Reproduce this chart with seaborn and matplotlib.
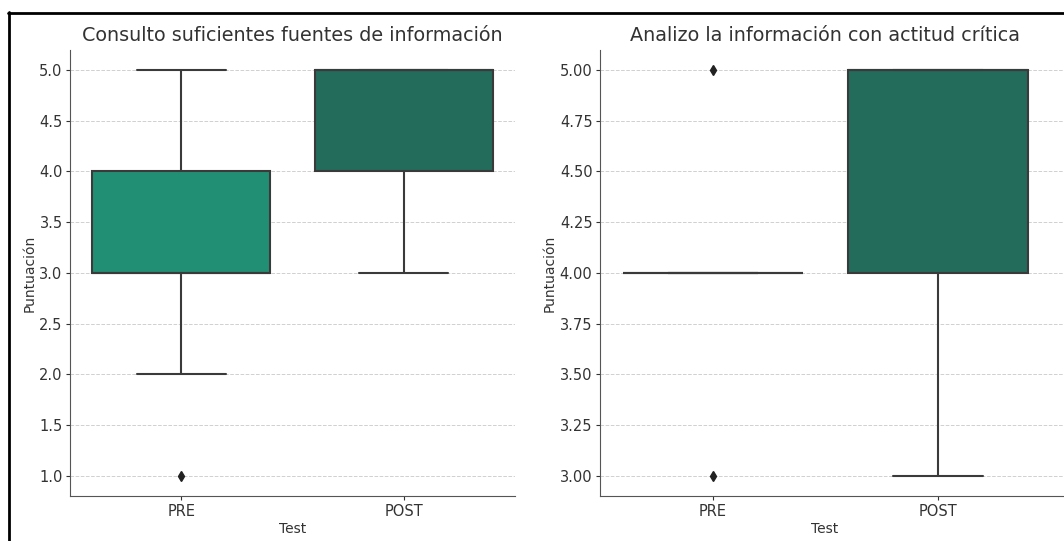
import matplotlib
matplotlib.use("Agg")
import matplotlib.pyplot as plt
from matplotlib.lines import Line2D
import pandas as pd
import seaborn as sns

# scores per test moment
consulto_pre = [1, 2, 3, 3, 3, 3, 3, 4, 4, 4, 5, 5]
consulto_post = [3, 4, 4, 4, 5, 5, 5, 5, 5, 5, 5, 5]
analizo_pre = [3, 4, 4, 4, 4, 4, 4, 4, 4, 4, 4, 5]
analizo_post = [3, 4, 4, 4, 5, 5, 5, 5, 5, 5, 5, 5]

titles = ["Consulto suficientes fuentes de información",
          "Analizo la información con actitud crítica"]
test_order = ["PRE", "POST"]
box_colors = {"PRE": "#218f74", "POST": "#236b5b"}


def to_long(pre, post):
    return pd.DataFrame({
        "Test": ["PRE"] * len(pre) + ["POST"] * len(post),
        "Puntuación": pre + post,
    })


sns.set_style("ticks")
plt.rcParams["font.family"] = ["DejaVu Sans"]

fig = plt.figure(figsize=(10.64, 5.41), dpi=100)
ax1 = fig.add_axes([0.066, 0.083, 0.418, 0.825])
# the right panel runs off the edge of the original screenshot
ax2 = fig.add_axes([0.564, 0.083, 0.436, 0.825])

frames = [to_long(consulto_pre, consulto_post), to_long(analizo_pre, analizo_post)]

for ax, df, title in zip([ax1, ax2], frames, titles):
    ax.yaxis.grid(True, linestyle="--", color="#d0d0d0", linewidth=0.7)
    ax.set_axisbelow(True)
    sns.boxplot(data=df, x="Test", y="Puntuación", hue="Test", order=test_order,
                palette=box_colors, legend=False, ax=ax, width=0.8,
                linecolor="#3a3a3a", linewidth=1.5, saturation=1,
                flierprops={"marker": "d", "markerfacecolor": "#222222",
                            "markeredgecolor": "#222222", "markersize": 5})
    ax.set_title(title, fontsize=13.8, color="#333333")
    ax.set_xlabel("Test", fontsize=10, color="#333333", labelpad=2)
    ax.set_ylabel("Puntuación", fontsize=10, color="#333333", labelpad=2)
    ax.tick_params(labelsize=10.5, colors="#333333", length=3, pad=2.5)
    for side in ["top", "right"]:
        ax.spines[side].set_visible(False)
    for side in ["left", "bottom"]:
        ax.spines[side].set_color("#555555")

ax1.set_yticks([1.0, 1.5, 2.0, 2.5, 3.0, 3.5, 4.0, 4.5, 5.0])
ax1.set_yticklabels([f"{v:.1f}" for v in ax1.get_yticks()])
ax2.set_yticks([3.0, 3.25, 3.5, 3.75, 4.0, 4.25, 4.5, 4.75, 5.0])
ax2.set_yticklabels([f"{v:.2f}" for v in ax2.get_yticks()])
ax1.set_ylim(0.8, 5.2)
ax2.set_ylim(2.9, 5.1)
ax2.set_xlim(-0.5, 1.56)
ax2.title.set_x(0.485)
ax2.xaxis.label.set_x(0.485)

# frame of the original screenshot (top and left edges)
fig.add_artist(Line2D([0.0075, 1.0], [0.976, 0.976], color="black", linewidth=2))
fig.add_artist(Line2D([0.0085, 0.0085], [0.0, 0.977], color="black", linewidth=2))

fig.savefig("out.png", dpi=100)
